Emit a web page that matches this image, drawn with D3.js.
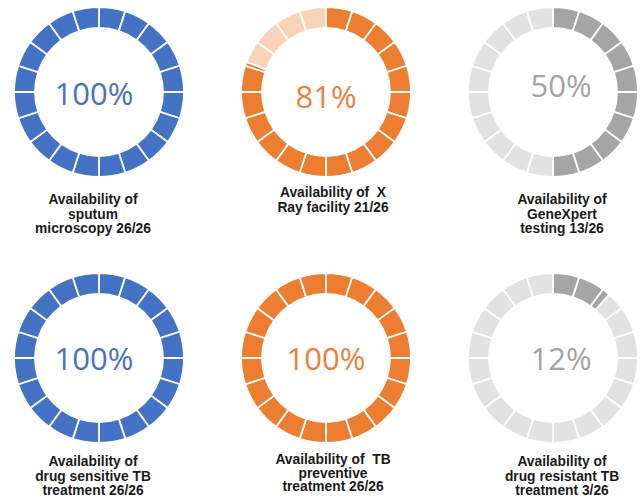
<!DOCTYPE html>
<html>
<head>
<meta charset="utf-8">
<script src="https://cdn.jsdelivr.net/npm/d3@7"></script>
<style>
  body { margin: 0; background: #fff; }
</style>
</head>
<body>
<svg id="chart" width="641" height="500"></svg>
<script>
// facilities with each service, out of 26
let total = 26;
let counts = [26, 21, 13, 26, 26, 3];
let labels = [
    ["Availability of", "sputum", "microscopy 26/26"],
    ["Availability of  X", "Ray facility 21/26"],
    ["Availability of", "GeneXpert", "testing 13/26"],
    ["Availability of", "drug sensitive TB", "treatment 26/26"],
    ["Availability of  TB", "preventive", "treatment 26/26"],
    ["Availability of", "drug resistant TB", "treatment 3/26"]
];
let nSeg = 20;

let colorOn = ["#4472C4", "#ED7D31", "#A5A5A5"];
let colorOff = ["#C9D6EF", "#F9D3B8", "#E2E2E2"];
let colorTxt = ["#4A72C0", "#E9823E", "#A3A3A3"];

let svg = d3.select("#chart");

let colX = d3.scalePoint([0, 1, 2], [99, 553]);
let rowY = d3.scalePoint([0, 1], [92, 358]);
let fillScale = d3.scaleLinear([0, total], [0, 2 * Math.PI]);
let segAngle = 2 * Math.PI / nSeg;

let arc = d3.arc().innerRadius(64).outerRadius(85);

// small nudges so the texts sit like in the picture
let pctDx = [-5, 0, 8];
let pctDy = [1, 4, -7, 0, 0, 0];
let lblDx = [-6, 7, 9];
let lblTop = [112, 105, 112, 108, 106, 108];
let lblGap = [14.5, 14.5, 14.5, 14.5, 13.5, 14.5];

counts.forEach((c, i) => {
    const col = i % 3, row = Math.floor(i / 3);
    const g = svg.append("g")
        .attr("transform", "translate(" + colX(col) + "," + rowY(row) + ")");

    const cut = fillScale(c);
    // each segment split into a filled part and an empty part
    const pieces = [];
    d3.range(nSeg).forEach(k => {
        const a0 = k * segAngle, a1 = (k + 1) * segAngle;
        if (cut >= a1) pieces.push({ startAngle: a0, endAngle: a1, on: true });
        else if (cut <= a0) pieces.push({ startAngle: a0, endAngle: a1, on: false });
        else {
            pieces.push({ startAngle: a0, endAngle: cut, on: true });
            pieces.push({ startAngle: cut, endAngle: a1, on: false });
        }
    });

    g.selectAll(".seg")
        .data(pieces)
        .enter()
        .append("path")
        .attr("class", "seg")
        .attr("d", arc)
        .attr("fill", d => d.on ? colorOn[col] : colorOff[col])
        .attr("stroke", "#ffffff")
        .style("stroke-width", "1.8px");

    g.append("text")
        .attr("x", pctDx[col])
        .attr("y", pctDy[i])
        .attr("text-anchor", "middle")
        .attr("dominant-baseline", "central")
        .style("font-family", "'Open Sans', sans-serif")
        .style("font-size", "31px")
        .style("fill", colorTxt[col])
        .text(Math.round(c / total * 100) + "%");

    g.append("text")
        .attr("text-anchor", "middle")
        .style("white-space", "pre")
        .style("font-family", "'Liberation Sans', Arial, sans-serif")
        .style("font-weight", "bold")
        .style("font-size", "13.8px")
        .style("fill", "#1a1a1a")
        .selectAll("tspan")
        .data(labels[i])
        .enter()
        .append("tspan")
        .attr("x", lblDx[col])
        .attr("y", (d, j) => lblTop[i] + j * lblGap[i])
        .text(d => d);
});
</script>
</body>
</html>
